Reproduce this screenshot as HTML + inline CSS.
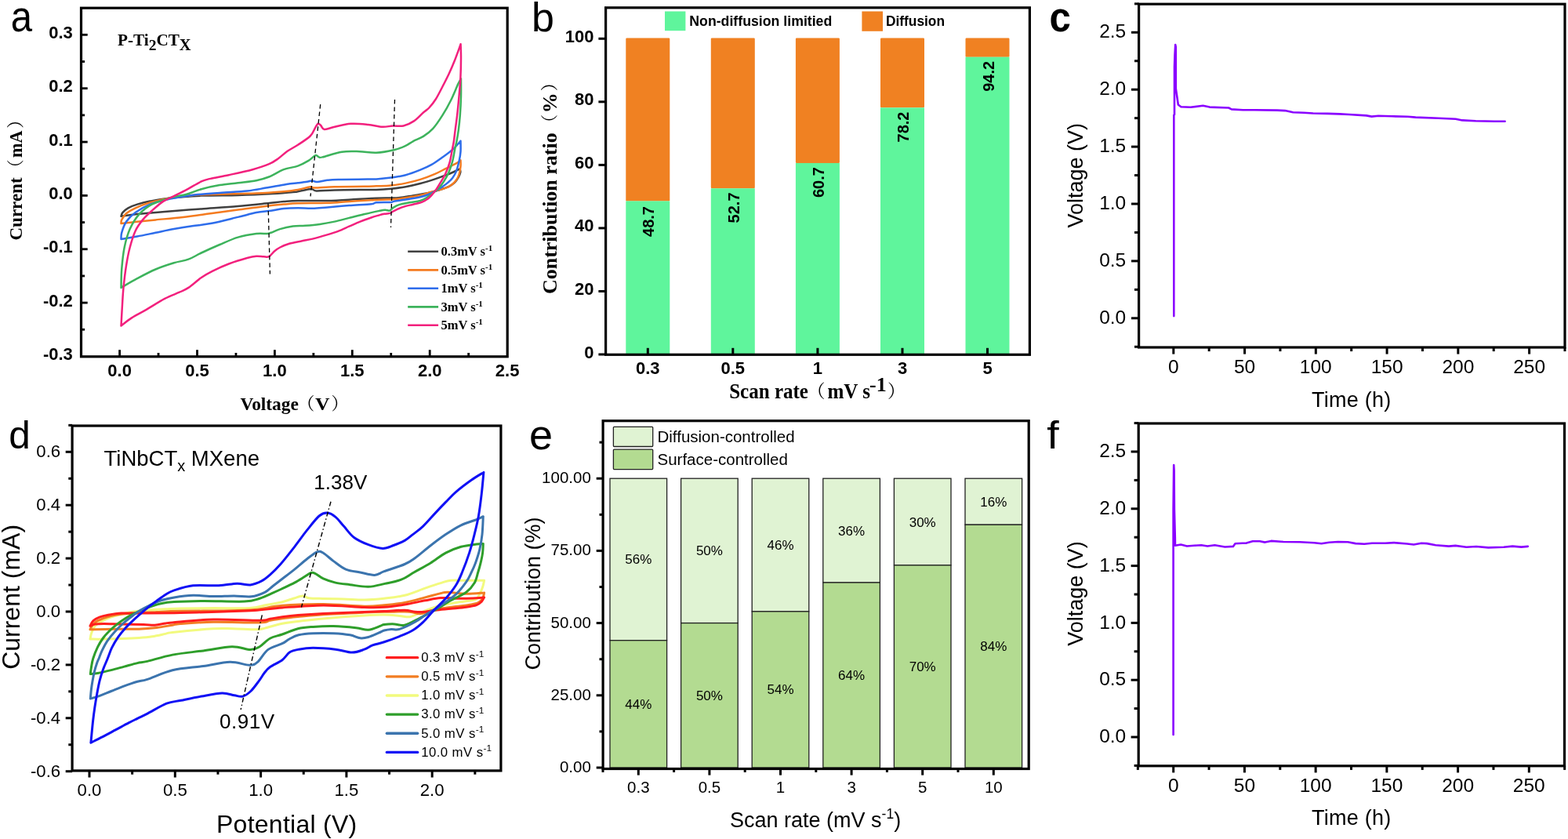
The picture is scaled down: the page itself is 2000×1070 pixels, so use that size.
<!DOCTYPE html>
<html><head><meta charset="utf-8"><title>Figure</title>
<style>html,body{margin:0;padding:0;background:#fff;} svg{display:block;}</style>
</head><body>
<svg width="2000" height="1070" viewBox="0 0 2000 1070">
<rect x="0" y="0" width="2000" height="1070" fill="#fff"/>
<path d="M154.5,275.8 C154.82,275.02 154.92,272.85 156.4,271.1 C157.88,269.35 160.3,267.05 163.4,265.3 C166.5,263.55 170.33,262.05 175,260.6 C179.67,259.15 184.38,257.97 191.4,256.6 C198.42,255.23 206.2,253.57 217.1,252.4 C228,251.23 242.4,250.18 256.8,249.6 C271.2,249.02 289.1,249.28 303.5,248.9 C317.9,248.52 331.52,247.97 343.2,247.3 C354.88,246.63 367.47,245.4 373.6,244.9 C379.73,244.4 376.13,244.95 380,244.3 C383.87,243.65 392.9,241.15 396.8,241 C400.7,240.85 398.42,243.17 403.4,243.4 C408.38,243.63 416.58,242.63 426.7,242.4 C436.82,242.17 455.22,242.07 464.1,242 C472.98,241.93 474.23,242.22 480,242 C485.77,241.78 492.47,241.33 498.7,240.7 C504.93,240.07 511.17,239.32 517.4,238.2 C523.63,237.08 529.87,235.63 536.1,234 C542.33,232.37 549.35,230.18 554.8,228.4 C560.25,226.62 564.92,224.78 568.8,223.3 C572.68,221.82 575.15,220.8 578.1,219.5 C581.05,218.2 585.1,216.17 586.5,215.5 M586.5,215.5 C586.63,216.17 587.6,217.73 587.3,219.5 C587,221.27 585.92,223.92 584.7,226.1 C583.48,228.28 581.87,230.73 580,232.6 C578.13,234.47 576.15,235.9 573.5,237.3 C570.85,238.7 567.22,239.92 564.1,241 C560.98,242.08 557.92,242.93 554.8,243.8 C551.68,244.67 550.08,245.27 545.4,246.2 C540.72,247.13 532.93,248.4 526.7,249.4 C520.47,250.4 515.78,251.65 508,252.2 C500.22,252.75 488.87,252.38 480,252.7 C471.13,253.02 465.23,253.55 454.8,254.1 C444.37,254.65 429.87,255.68 417.4,256 C404.93,256.32 389.25,255.82 380,256 C370.75,256.18 368.03,256.6 361.9,257.1 C355.77,257.6 352.93,258.03 343.2,259 C333.47,259.97 317.9,261.67 303.5,262.9 C289.1,264.13 272.37,265.23 256.8,266.4 C241.23,267.57 223.73,268.8 210.1,269.9 C196.47,271 184.27,272.02 175,273 C165.73,273.98 157.92,275.33 154.5,275.8" fill="none" stroke="#404040" stroke-width="2.5" stroke-linejoin="round" stroke-linecap="round"/>
<path d="M154.5,285.1 C154.62,284.32 154.12,282.53 155.2,280.4 C156.28,278.27 158.08,274.82 161,272.3 C163.92,269.78 167.63,267.63 172.7,265.3 C177.77,262.97 184,260.45 191.4,258.3 C198.8,256.15 208.15,253.97 217.1,252.4 C226.05,250.83 234.58,249.68 245.1,248.9 C255.62,248.12 266.57,248.08 280.2,247.7 C293.83,247.32 313.28,247.18 326.9,246.6 C340.52,246.02 353.05,244.97 361.9,244.2 C370.75,243.43 374.33,243 380,242 C385.67,241 392.32,238.6 395.9,238.2 C399.48,237.8 396.37,239.6 401.5,239.6 C406.63,239.6 416.27,238.5 426.7,238.2 C437.13,237.9 455.22,237.95 464.1,237.8 C472.98,237.65 474.23,237.52 480,237.3 C485.77,237.08 492.47,237.12 498.7,236.5 C504.93,235.88 511.17,234.87 517.4,233.6 C523.63,232.33 529.87,230.85 536.1,228.9 C542.33,226.95 549.35,224.23 554.8,221.9 C560.25,219.57 564.13,217.23 568.8,214.9 C573.47,212.57 579.68,209.62 582.8,207.9 C585.92,206.18 586.72,205.15 587.5,204.6 M587.5,204.6 C587.5,205.85 587.82,209.15 587.5,212.1 C587.18,215.05 586.53,219.35 585.6,222.3 C584.67,225.25 583.45,227.62 581.9,229.8 C580.35,231.98 578.48,233.77 576.3,235.4 C574.12,237.03 571.62,238.43 568.8,239.6 C565.98,240.77 562.52,241.53 559.4,242.4 C556.28,243.27 553.98,243.7 550.1,244.8 C546.22,245.9 541.55,247.77 536.1,249 C530.65,250.23 522.85,251.35 517.4,252.2 C511.95,253.05 509.63,253.63 503.4,254.1 C497.17,254.57 484.98,254.8 480,255 C475.02,255.2 479.27,254.98 473.5,255.3 C467.73,255.62 454.75,256.32 445.4,256.9 C436.05,257.48 428.3,258.4 417.4,258.8 C406.5,259.2 389.25,259 380,259.3 C370.75,259.6 368.8,260 361.9,260.6 C355,261.2 348.33,261.73 338.6,262.9 C328.87,264.07 315.18,266.03 303.5,267.6 C291.82,269.17 280.18,270.75 268.5,272.3 C256.82,273.85 245.08,275.55 233.4,276.9 C221.72,278.25 208.13,279.42 198.4,280.4 C188.67,281.38 182.32,282.02 175,282.8 C167.68,283.58 157.92,284.72 154.5,285.1" fill="none" stroke="#F47B20" stroke-width="2.5" stroke-linejoin="round" stroke-linecap="round"/>
<path d="M154.5,305 C154.62,303.63 154.12,300.5 155.2,296.8 C156.28,293.1 158.08,287.08 161,282.8 C163.92,278.52 167.63,274.8 172.7,271.1 C177.77,267.4 184,263.52 191.4,260.6 C198.8,257.68 208.15,255.55 217.1,253.6 C226.05,251.65 234.58,250.18 245.1,248.9 C255.62,247.62 268.52,246.8 280.2,245.9 C291.88,245 305.35,244.55 315.2,243.5 C325.05,242.45 330.93,241.02 339.3,239.6 C347.67,238.18 358.62,236.05 365.4,235 C372.18,233.95 375.63,233.83 380,233.3 C384.37,232.77 388.58,232.27 391.6,231.8 C394.62,231.33 395.98,230.45 398.1,230.5 C400.22,230.55 401.08,232.22 404.3,232.1 C407.52,231.98 412.88,230.33 417.4,229.8 C421.92,229.27 422.83,229.1 431.4,228.9 C439.97,228.7 460.7,228.68 468.8,228.6 C476.9,228.52 475.02,228.75 480,228.4 C484.98,228.05 492.47,227.35 498.7,226.5 C504.93,225.65 511.17,224.93 517.4,223.3 C523.63,221.67 530.65,218.88 536.1,216.7 C541.55,214.52 545.43,212.85 550.1,210.2 C554.77,207.55 559.43,204.15 564.1,200.8 C568.77,197.45 574.2,193.6 578.1,190.1 C582,186.6 585.93,181.52 587.5,179.8 M587.5,179.8 C587.5,182.07 587.82,189.12 587.5,193.4 C587.18,197.68 586.53,201.3 585.6,205.5 C584.67,209.7 583.3,215.02 581.9,218.6 C580.5,222.18 578.92,224.67 577.2,227 C575.48,229.33 573.78,230.73 571.6,232.6 C569.42,234.47 566.9,236.33 564.1,238.2 C561.3,240.07 557.92,242.08 554.8,243.8 C551.68,245.52 548.52,247.25 545.4,248.5 C542.28,249.75 540.77,250.28 536.1,251.3 C531.43,252.32 522.85,253.75 517.4,254.6 C511.95,255.45 506.52,255.85 503.4,256.4 C500.28,256.95 502.6,257.58 498.7,257.9 C494.8,258.22 484.2,257.92 480,258.3 C475.8,258.68 479.27,259.57 473.5,260.2 C467.73,260.83 454.75,261.4 445.4,262.1 C436.05,262.8 425.18,263.78 417.4,264.4 C409.62,265.02 404.93,265.65 398.7,265.8 C392.47,265.95 386.13,265.27 380,265.3 C373.87,265.33 367.63,265.42 361.9,266 C356.17,266.58 351.43,267.95 345.6,268.8 C339.77,269.65 333.92,269.75 326.9,271.1 C319.88,272.45 313.23,274.57 303.5,276.9 C293.77,279.23 278.23,283.22 268.5,285.1 C258.77,286.98 252.88,287.03 245.1,288.2 C237.32,289.37 229.58,290.67 221.8,292.1 C214.02,293.53 206.2,295.23 198.4,296.8 C190.6,298.37 182.32,300.13 175,301.5 C167.68,302.87 157.92,304.42 154.5,305" fill="none" stroke="#2E6DEB" stroke-width="2.5" stroke-linejoin="round" stroke-linecap="round"/>
<path d="M154.5,366.9 C154.62,363 154.5,352.07 155.2,343.5 C155.9,334.93 156.95,324.07 158.7,315.5 C160.45,306.93 162.58,299.12 165.7,292.1 C168.82,285.08 172.73,278.65 177.4,273.4 C182.07,268.15 187.08,264.1 193.7,260.6 C200.32,257.1 209.7,254.55 217.1,252.4 C224.5,250.25 231.48,249.57 238.1,247.7 C244.72,245.83 249.78,243.13 256.8,241.2 C263.82,239.27 272.42,237.42 280.2,236.1 C287.98,234.78 295.72,234.28 303.5,233.3 C311.28,232.32 320.28,231.5 326.9,230.2 C333.52,228.9 337.37,227.83 343.2,225.5 C349.03,223.17 355.77,218.52 361.9,216.2 C368.03,213.88 374.73,213.48 380,211.6 C385.27,209.72 389.77,207.15 393.5,204.9 C397.23,202.65 400.17,198.85 402.4,198.1 C404.63,197.35 405.4,200.02 406.9,200.4 C408.4,200.78 406.53,201.52 411.4,200.4 C416.27,199.28 428.25,194.9 436.1,193.7 C443.95,192.5 451.18,193.02 458.5,193.2 C465.82,193.38 472.52,195.17 480,194.8 C487.48,194.43 497.17,192.48 503.4,191 C509.63,189.52 513.52,187.68 517.4,185.9 C521.28,184.12 522.93,182.3 526.7,180.3 C530.47,178.3 535.77,176.58 540,173.9 C544.23,171.22 548.05,168.65 552.1,164.2 C556.15,159.75 560.45,153.28 564.3,147.2 C568.15,141.12 571.87,134.38 575.2,127.7 C578.53,121.02 582.17,111.65 584.3,107.1 C586.43,102.55 587.38,101.52 588,100.4 M588,100.4 C588,104.15 588.2,115.1 588,122.9 C587.8,130.7 587.32,140.12 586.8,147.2 C586.28,154.28 585.62,159.93 584.9,165.4 C584.18,170.87 583.23,176.12 582.5,180 C581.77,183.88 581.38,184.45 580.5,188.7 C579.62,192.95 578.53,200.37 577.2,205.5 C575.87,210.63 574.37,215.13 572.5,219.5 C570.63,223.87 568.18,228.27 566,231.7 C563.82,235.13 561.58,237.77 559.4,240.1 C557.22,242.43 555.23,243.83 552.9,245.7 C550.57,247.57 548.2,249.58 545.4,251.3 C542.6,253.02 539.98,254.83 536.1,256 C532.22,257.17 526.62,257.45 522.1,258.3 C517.58,259.15 512.43,260 509,261.1 C505.57,262.2 503.53,263.65 501.5,264.9 C499.47,266.15 498.52,268.13 496.8,268.6 C495.08,269.07 493.53,267.62 491.2,267.7 C488.87,267.78 487.32,268.17 482.8,269.1 C478.28,270.03 470.33,271.83 464.1,273.3 C457.87,274.77 451.63,276.35 445.4,277.9 C439.17,279.45 432.93,281.27 426.7,282.6 C420.47,283.93 414.23,285.03 408,285.9 C401.77,286.77 395.03,287.35 389.3,287.8 C383.57,288.25 378.95,287.88 373.6,288.6 C368.25,289.32 361.87,290.73 357.2,292.1 C352.53,293.47 348.32,295.82 345.6,296.8 C342.88,297.78 344.02,297.8 340.9,298 C337.78,298.2 333.13,297.23 326.9,298 C320.67,298.77 311.28,300.27 303.5,302.6 C295.72,304.93 287.98,308.68 280.2,312 C272.42,315.32 263.43,319.38 256.8,322.5 C250.17,325.62 246.23,328.57 240.4,330.7 C234.57,332.83 228.8,333.17 221.8,335.3 C214.8,337.43 206.2,340.18 198.4,343.5 C190.6,346.82 182.32,351.3 175,355.2 C167.68,359.1 157.92,364.95 154.5,366.9" fill="none" stroke="#3DB35C" stroke-width="2.5" stroke-linejoin="round" stroke-linecap="round"/>
<path d="M154.5,415.5 C154.73,411.28 155.4,398.3 155.9,390.2 C156.4,382.1 156.65,375.47 157.5,366.9 C158.35,358.33 159.63,347.37 161,338.8 C162.37,330.23 163.75,322.88 165.7,315.5 C167.65,308.12 169.98,300.35 172.7,294.5 C175.42,288.65 178.5,284.68 182,280.4 C185.5,276.12 189.42,272.68 193.7,268.8 C197.98,264.92 203.02,260.22 207.7,257.1 C212.38,253.98 216.73,252.63 221.8,250.1 C226.87,247.57 232.27,245.02 238.1,241.9 C243.93,238.78 251.73,233.73 256.8,231.4 C261.87,229.07 262.67,229.27 268.5,227.9 C274.33,226.53 282.85,225.15 291.8,223.2 C300.75,221.25 313.63,218.53 322.2,216.2 C330.77,213.87 337.75,211.53 343.2,209.2 C348.65,206.87 351,204.93 354.9,202.2 C358.8,199.47 362.42,195.72 366.6,192.8 C370.78,189.88 375.15,187.92 380,184.7 C384.85,181.48 391.97,177.23 395.7,173.5 C399.43,169.77 400.72,164.92 402.4,162.3 C404.08,159.68 404.67,158.18 405.8,157.8 C406.93,157.42 407.9,158.8 409.2,160 C410.5,161.2 410.98,164.62 413.6,165 C416.22,165.38 419.28,163.5 424.9,162.3 C430.52,161.1 439.83,158.37 447.3,157.8 C454.77,157.23 462.97,158.23 469.7,158.9 C476.43,159.57 482.47,161.53 487.7,161.8 C492.93,162.07 496.62,160.72 501.1,160.5 C505.58,160.28 510.12,161.52 514.6,160.5 C519.08,159.48 523.77,157.23 528,154.4 C532.23,151.57 536.78,146.32 540,143.5 C543.22,140.68 544.67,140.33 547.3,137.5 C549.93,134.67 552.97,130.97 555.8,126.5 C558.63,122.03 561.47,116.17 564.3,110.7 C567.13,105.23 570.17,99.37 572.8,93.7 C575.43,88.03 577.63,82.93 580.1,76.7 C582.57,70.47 586.35,59.7 587.6,56.3 M587.6,56.3 C587.67,59.3 588.03,67.25 588,74.3 C587.97,81.35 587.82,90.5 587.4,98.6 C586.98,106.7 586.22,114.8 585.5,122.9 C584.78,131 583.9,140.12 583.1,147.2 C582.3,154.28 581.4,159.93 580.7,165.4 C580,170.87 579.48,176.12 578.9,180 C578.32,183.88 578.1,184.13 577.2,188.7 C576.3,193.27 575.05,201.8 573.5,207.4 C571.95,213 569.93,217.93 567.9,222.3 C565.87,226.67 563.48,230.02 561.3,233.6 C559.12,237.18 557.13,240.7 554.8,243.8 C552.47,246.9 550.12,249.85 547.3,252.2 C544.48,254.55 541.33,256.48 537.9,257.9 C534.47,259.32 530.9,259.62 526.7,260.7 C522.5,261.78 516.9,262.93 512.7,264.4 C508.5,265.87 503.98,268.25 501.5,269.5 C499.02,270.75 499.67,271.35 497.8,271.9 C495.93,272.45 492.8,272.33 490.3,272.8 C487.8,273.27 485.6,273.92 482.8,274.7 C480,275.48 477.4,276.18 473.5,277.5 C469.6,278.82 464.08,280.73 459.4,282.6 C454.72,284.47 450.07,286.67 445.4,288.7 C440.73,290.73 436.07,293.02 431.4,294.8 C426.73,296.58 422.85,297.77 417.4,299.4 C411.95,301.03 404.05,303.28 398.7,304.6 C393.35,305.92 390.27,306.27 385.3,307.3 C380.33,308.33 373.58,309.43 368.9,310.8 C364.22,312.17 360.32,313.93 357.2,315.5 C354.08,317.07 352.53,318.25 350.2,320.2 C347.87,322.15 345.53,326.03 343.2,327.2 C340.87,328.37 338.92,327.28 336.2,327.2 C333.48,327.12 330.4,326.4 326.9,326.7 C323.4,327 321.05,327.37 315.2,329 C309.35,330.63 299.2,333.7 291.8,336.5 C284.4,339.3 276.63,342.88 270.8,345.8 C264.97,348.72 261.87,350.48 256.8,354 C251.73,357.52 245.07,363.78 240.4,366.9 C235.73,370.02 233.85,370.37 228.8,372.7 C223.75,375.03 217.12,377.2 210.1,380.9 C203.08,384.6 193.72,390.82 186.7,394.9 C179.68,398.98 173.37,401.97 168,405.4 C162.63,408.83 156.75,413.82 154.5,415.5" fill="none" stroke="#F2207D" stroke-width="2.5" stroke-linejoin="round" stroke-linecap="round"/>
<line x1="408.7" y1="133.1" x2="396" y2="250.4" stroke="#000" stroke-width="1.3" stroke-dasharray="5.5,4"/>
<line x1="503.5" y1="127" x2="498.5" y2="290" stroke="#000" stroke-width="1.3" stroke-dasharray="5.5,4"/>
<line x1="342" y1="259.4" x2="344.4" y2="349.4" stroke="#000" stroke-width="1.3" stroke-dasharray="5.5,4"/>
<rect x="103.5" y="10.2" width="543.7" height="444.6" fill="none" stroke="#000" stroke-width="3.2" stroke-linejoin="miter"/>
<line x1="103.5" y1="420.27" x2="108.1" y2="420.27" stroke="#000" stroke-width="2.8" />
<line x1="103.5" y1="386.1" x2="111.7" y2="386.1" stroke="#000" stroke-width="2.8" />
<line x1="103.5" y1="351.93" x2="108.1" y2="351.93" stroke="#000" stroke-width="2.8" />
<line x1="103.5" y1="317.75" x2="111.7" y2="317.75" stroke="#000" stroke-width="2.8" />
<line x1="103.5" y1="283.57" x2="108.1" y2="283.57" stroke="#000" stroke-width="2.8" />
<line x1="103.5" y1="249.4" x2="111.7" y2="249.4" stroke="#000" stroke-width="2.8" />
<line x1="103.5" y1="215.22" x2="108.1" y2="215.22" stroke="#000" stroke-width="2.8" />
<line x1="103.5" y1="181.05" x2="111.7" y2="181.05" stroke="#000" stroke-width="2.8" />
<line x1="103.5" y1="146.88" x2="108.1" y2="146.88" stroke="#000" stroke-width="2.8" />
<line x1="103.5" y1="112.7" x2="111.7" y2="112.7" stroke="#000" stroke-width="2.8" />
<line x1="103.5" y1="78.53" x2="108.1" y2="78.53" stroke="#000" stroke-width="2.8" />
<line x1="103.5" y1="44.35" x2="111.7" y2="44.35" stroke="#000" stroke-width="2.8" />
<text x="92.8" y="459.05" font-family="'Liberation Sans', Arial, sans-serif" font-size="22" font-weight="bold" text-anchor="end" fill="#000" >-0.3</text>
<text x="92.8" y="390.7" font-family="'Liberation Sans', Arial, sans-serif" font-size="22" font-weight="bold" text-anchor="end" fill="#000" >-0.2</text>
<text x="92.8" y="322.35" font-family="'Liberation Sans', Arial, sans-serif" font-size="22" font-weight="bold" text-anchor="end" fill="#000" >-0.1</text>
<text x="92.8" y="254" font-family="'Liberation Sans', Arial, sans-serif" font-size="22" font-weight="bold" text-anchor="end" fill="#000" >0.0</text>
<text x="92.8" y="185.65" font-family="'Liberation Sans', Arial, sans-serif" font-size="22" font-weight="bold" text-anchor="end" fill="#000" >0.1</text>
<text x="92.8" y="117.3" font-family="'Liberation Sans', Arial, sans-serif" font-size="22" font-weight="bold" text-anchor="end" fill="#000" >0.2</text>
<text x="92.8" y="48.95" font-family="'Liberation Sans', Arial, sans-serif" font-size="22" font-weight="bold" text-anchor="end" fill="#000" >0.3</text>
<line x1="152.6" y1="454.8" x2="152.6" y2="446.2" stroke="#000" stroke-width="2.8" />
<line x1="202.05" y1="454.8" x2="202.05" y2="450" stroke="#000" stroke-width="2.8" />
<line x1="251.5" y1="454.8" x2="251.5" y2="446.2" stroke="#000" stroke-width="2.8" />
<line x1="300.95" y1="454.8" x2="300.95" y2="450" stroke="#000" stroke-width="2.8" />
<line x1="350.4" y1="454.8" x2="350.4" y2="446.2" stroke="#000" stroke-width="2.8" />
<line x1="399.85" y1="454.8" x2="399.85" y2="450" stroke="#000" stroke-width="2.8" />
<line x1="449.3" y1="454.8" x2="449.3" y2="446.2" stroke="#000" stroke-width="2.8" />
<line x1="498.75" y1="454.8" x2="498.75" y2="450" stroke="#000" stroke-width="2.8" />
<line x1="548.2" y1="454.8" x2="548.2" y2="446.2" stroke="#000" stroke-width="2.8" />
<line x1="597.65" y1="454.8" x2="597.65" y2="450" stroke="#000" stroke-width="2.8" />
<text x="152.6" y="480" font-family="'Liberation Sans', Arial, sans-serif" font-size="22" font-weight="bold" text-anchor="middle" fill="#000" >0.0</text>
<text x="251.5" y="480" font-family="'Liberation Sans', Arial, sans-serif" font-size="22" font-weight="bold" text-anchor="middle" fill="#000" >0.5</text>
<text x="350.4" y="480" font-family="'Liberation Sans', Arial, sans-serif" font-size="22" font-weight="bold" text-anchor="middle" fill="#000" >1.0</text>
<text x="449.3" y="480" font-family="'Liberation Sans', Arial, sans-serif" font-size="22" font-weight="bold" text-anchor="middle" fill="#000" >1.5</text>
<text x="548.2" y="480" font-family="'Liberation Sans', Arial, sans-serif" font-size="22" font-weight="bold" text-anchor="middle" fill="#000" >2.0</text>
<text x="647.1" y="480" font-family="'Liberation Sans', Arial, sans-serif" font-size="22" font-weight="bold" text-anchor="middle" fill="#000" >2.5</text>
<line x1="520.2" y1="320.7" x2="559.1" y2="320.7" stroke="#404040" stroke-width="2.6" />
<text x="562.5" y="326.3" font-family="'Liberation Serif', 'Noto Serif CJK SC', 'Times New Roman', serif" font-size="16.5" font-weight="bold">0.3mV s<tspan font-size="11" dy="-6.5">-1</tspan></text>
<line x1="520.2" y1="344.4" x2="559.1" y2="344.4" stroke="#F47B20" stroke-width="2.6" />
<text x="562.5" y="350" font-family="'Liberation Serif', 'Noto Serif CJK SC', 'Times New Roman', serif" font-size="16.5" font-weight="bold">0.5mV s<tspan font-size="11" dy="-6.5">-1</tspan></text>
<line x1="520.2" y1="367.8" x2="559.1" y2="367.8" stroke="#2E6DEB" stroke-width="2.6" />
<text x="562.5" y="373.4" font-family="'Liberation Serif', 'Noto Serif CJK SC', 'Times New Roman', serif" font-size="16.5" font-weight="bold">1mV s<tspan font-size="11" dy="-6.5">-1</tspan></text>
<line x1="520.2" y1="391.4" x2="559.1" y2="391.4" stroke="#3DB35C" stroke-width="2.6" />
<text x="562.5" y="397" font-family="'Liberation Serif', 'Noto Serif CJK SC', 'Times New Roman', serif" font-size="16.5" font-weight="bold">3mV s<tspan font-size="11" dy="-6.5">-1</tspan></text>
<line x1="520.2" y1="414.8" x2="559.1" y2="414.8" stroke="#F2207D" stroke-width="2.6" />
<text x="562.5" y="420.4" font-family="'Liberation Serif', 'Noto Serif CJK SC', 'Times New Roman', serif" font-size="16.5" font-weight="bold">5mV s<tspan font-size="11" dy="-6.5">-1</tspan></text>
<text x="150" y="57.7" font-family="'Liberation Serif', 'Noto Serif CJK SC', 'Times New Roman', serif" font-size="21.2" font-weight="bold">P-Ti<tspan dy="6" font-size="19.5">2</tspan><tspan dy="-6">CT</tspan><tspan dy="6" font-size="20.5">X</tspan></text>
<g transform="translate(27.7,305.5) rotate(-90)" font-family="'Liberation Serif', 'Noto Serif CJK SC', 'Times New Roman', serif"><text x="-1" y="0" font-size="23" font-weight="bold">Current</text><text x="80.3" y="-1" font-size="22">（</text><text x="104.6" y="0" font-size="23" font-weight="bold" textLength="34.5" lengthAdjust="spacingAndGlyphs">mA</text><text x="141.7" y="-1" font-size="22">）</text></g>
<text x="306.4" y="522.8" font-family="'Liberation Serif', 'Noto Serif CJK SC', 'Times New Roman', serif" font-size="23.4" font-weight="bold">Voltage</text>
<text x="379.2" y="522" font-family="'Liberation Serif', 'Noto Serif CJK SC', 'Times New Roman', serif" font-size="22">（</text>
<text x="402" y="522.8" font-family="'Liberation Serif', 'Noto Serif CJK SC', 'Times New Roman', serif" font-size="23.4" font-weight="bold" textLength="18.5" lengthAdjust="spacingAndGlyphs">V</text>
<text x="422.4" y="522" font-family="'Liberation Serif', 'Noto Serif CJK SC', 'Times New Roman', serif" font-size="22">）</text>
<text transform="translate(13.8,39.6) scale(0.893,1)" font-family="'Liberation Sans', Arial, sans-serif" font-size="55" font-weight="normal">a</text>
<rect x="798.3" y="48.5" width="56" height="207.9" fill="#F08122" rx="1.2"/>
<rect x="798.3" y="256.4" width="56" height="195.9" fill="#5FF59C"/>
<text transform="translate(834.3,263) rotate(-90)" text-anchor="end" font-family="'Liberation Sans', Arial, sans-serif" font-size="20" font-weight="bold">48.7</text>
<rect x="906.8" y="48.5" width="56" height="191.75" fill="#F08122" rx="1.2"/>
<rect x="906.8" y="240.25" width="56" height="212.05" fill="#5FF59C"/>
<text transform="translate(942.8,245.45) rotate(-90)" text-anchor="end" font-family="'Liberation Sans', Arial, sans-serif" font-size="20" font-weight="bold">52.7</text>
<rect x="1014.9" y="48.5" width="56" height="159.45" fill="#F08122" rx="1.2"/>
<rect x="1014.9" y="207.95" width="56" height="244.35" fill="#5FF59C"/>
<text transform="translate(1050.9,213.15) rotate(-90)" text-anchor="end" font-family="'Liberation Sans', Arial, sans-serif" font-size="20" font-weight="bold">60.7</text>
<rect x="1123" y="48.5" width="56" height="88.81" fill="#F08122" rx="1.2"/>
<rect x="1123" y="137.31" width="56" height="314.99" fill="#5FF59C"/>
<text transform="translate(1159,142.51) rotate(-90)" text-anchor="end" font-family="'Liberation Sans', Arial, sans-serif" font-size="20" font-weight="bold">78.2</text>
<rect x="1231.5" y="48.5" width="56" height="24.21" fill="#F08122" rx="1.2"/>
<rect x="1231.5" y="72.71" width="56" height="379.59" fill="#5FF59C"/>
<text transform="translate(1267.5,77.91) rotate(-90)" text-anchor="end" font-family="'Liberation Sans', Arial, sans-serif" font-size="20" font-weight="bold">94.2</text>
<rect x="772.6" y="9.8" width="540.8" height="442.5" fill="none" stroke="#000" stroke-width="3.2" stroke-linejoin="miter"/>
<line x1="763.4" y1="452" x2="772.6" y2="452" stroke="#000" stroke-width="3.0" />
<text x="757.5" y="456.5" font-family="'Liberation Sans', Arial, sans-serif" font-size="22" font-weight="bold" text-anchor="end" fill="#000" >0</text>
<line x1="763.4" y1="371.46" x2="772.6" y2="371.46" stroke="#000" stroke-width="3.0" />
<text x="757.5" y="375.96" font-family="'Liberation Sans', Arial, sans-serif" font-size="22" font-weight="bold" text-anchor="end" fill="#000" >20</text>
<line x1="763.4" y1="290.92" x2="772.6" y2="290.92" stroke="#000" stroke-width="3.0" />
<text x="757.5" y="295.42" font-family="'Liberation Sans', Arial, sans-serif" font-size="22" font-weight="bold" text-anchor="end" fill="#000" >40</text>
<line x1="763.4" y1="210.38" x2="772.6" y2="210.38" stroke="#000" stroke-width="3.0" />
<text x="757.5" y="214.88" font-family="'Liberation Sans', Arial, sans-serif" font-size="22" font-weight="bold" text-anchor="end" fill="#000" >60</text>
<line x1="763.4" y1="129.84" x2="772.6" y2="129.84" stroke="#000" stroke-width="3.0" />
<text x="757.5" y="134.34" font-family="'Liberation Sans', Arial, sans-serif" font-size="22" font-weight="bold" text-anchor="end" fill="#000" >80</text>
<line x1="763.4" y1="49.3" x2="772.6" y2="49.3" stroke="#000" stroke-width="3.0" />
<text x="757.5" y="53.8" font-family="'Liberation Sans', Arial, sans-serif" font-size="22" font-weight="bold" text-anchor="end" fill="#000" >100</text>
<line x1="826.3" y1="452.3" x2="826.3" y2="443.8" stroke="#000" stroke-width="3.0" />
<text x="826.3" y="476.6" font-family="'Liberation Sans', Arial, sans-serif" font-size="22" font-weight="bold" text-anchor="middle" fill="#000" >0.3</text>
<line x1="934.8" y1="452.3" x2="934.8" y2="443.8" stroke="#000" stroke-width="3.0" />
<text x="934.8" y="476.6" font-family="'Liberation Sans', Arial, sans-serif" font-size="22" font-weight="bold" text-anchor="middle" fill="#000" >0.5</text>
<line x1="1042.9" y1="452.3" x2="1042.9" y2="443.8" stroke="#000" stroke-width="3.0" />
<text x="1042.9" y="476.6" font-family="'Liberation Sans', Arial, sans-serif" font-size="22" font-weight="bold" text-anchor="middle" fill="#000" >1</text>
<line x1="1151" y1="452.3" x2="1151" y2="443.8" stroke="#000" stroke-width="3.0" />
<text x="1151" y="476.6" font-family="'Liberation Sans', Arial, sans-serif" font-size="22" font-weight="bold" text-anchor="middle" fill="#000" >3</text>
<line x1="1259.5" y1="452.3" x2="1259.5" y2="443.8" stroke="#000" stroke-width="3.0" />
<text x="1259.5" y="476.6" font-family="'Liberation Sans', Arial, sans-serif" font-size="22" font-weight="bold" text-anchor="middle" fill="#000" >5</text>
<rect x="848" y="14.5" width="26.4" height="24.7" fill="#5FF59C"/>
<text x="879.3" y="32.8" font-family="'Liberation Sans', Arial, sans-serif" font-size="18" font-weight="bold" text-anchor="start" fill="#000" textLength="182" lengthAdjust="spacingAndGlyphs">Non-diffusion limitied</text>
<rect x="1099.4" y="14.5" width="26.6" height="25.3" fill="#F08122"/>
<text x="1130" y="33.3" font-family="'Liberation Sans', Arial, sans-serif" font-size="18" font-weight="bold" text-anchor="start" fill="#000" textLength="75" lengthAdjust="spacingAndGlyphs">Diffusion</text>
<g transform="translate(710.3,374.1) rotate(-90)" font-family="'Liberation Serif', 'Noto Serif CJK SC', 'Times New Roman', serif"><text x="-1" y="0" font-size="26" font-weight="bold">Contribution ratio</text><text x="206.3" y="-2" font-size="22">（</text><text x="229.9" y="0" font-size="26" font-weight="bold">%</text><text x="257.8" y="-2" font-size="22">）</text></g>
<text x="930.2" y="508.2" font-family="'Liberation Serif', 'Noto Serif CJK SC', 'Times New Roman', serif" font-size="26.3" font-weight="bold" textLength="100.8" lengthAdjust="spacingAndGlyphs">Scan rate</text>
<text x="1029.4" y="506.8" font-family="'Liberation Serif', 'Noto Serif CJK SC', 'Times New Roman', serif" font-size="23">（</text>
<text x="1055.4" y="508.2" font-family="'Liberation Serif', 'Noto Serif CJK SC', 'Times New Roman', serif" font-size="26.3" font-weight="bold" textLength="54.6" lengthAdjust="spacingAndGlyphs">mV s</text>
<text x="1109" y="498.7" font-family="'Liberation Serif', 'Noto Serif CJK SC', 'Times New Roman', serif" font-size="26" font-weight="bold">-1</text>
<text x="1132.1" y="506.8" font-family="'Liberation Serif', 'Noto Serif CJK SC', 'Times New Roman', serif" font-size="23">）</text>
<text transform="translate(677.9,39.5) scale(1.0,1)" font-family="'Liberation Sans', Arial, sans-serif" font-size="52" font-weight="normal">b</text>
<path d="M1497.3,403.1 L1497.3,146.9 L1498,146 L1498,85 L1498.5,70 L1499.2,57 L1499.8,60 L1499.8,112.9 L1502.8,133.5 L1506.4,136.2 L1518.6,136.8 L1534.4,134.7 L1542.9,136.6 L1567.2,137.5 L1570.8,139.4 L1585.4,140.2 L1600,140.3 L1628.9,140.6 L1639.1,141.1 L1649.3,143.2 L1662.9,143.7 L1674.8,144.5 L1693.5,144.9 L1708.8,145.4 L1720.7,146 L1742.8,147.4 L1749.6,148.6 L1758.1,147.7 L1775.1,148.3 L1795.5,148.8 L1805.7,149.6 L1834.6,150.8 L1856.7,151.7 L1865.2,153.4 L1882.2,154.2 L1906,154.7 L1919.6,154.7" fill="none" stroke="#8A00FF" stroke-width="2.6" stroke-linejoin="round" stroke-linecap="round"/>
<rect x="1452.6" y="5.2" width="543.4" height="437.8" fill="none" stroke="#000" stroke-width="3.2" stroke-linejoin="miter"/>
<line x1="1447" y1="442.25" x2="1452.6" y2="442.25" stroke="#000" stroke-width="3.0" />
<line x1="1443" y1="405.8" x2="1452.6" y2="405.8" stroke="#000" stroke-width="3.0" />
<line x1="1447" y1="369.35" x2="1452.6" y2="369.35" stroke="#000" stroke-width="3.0" />
<line x1="1443" y1="332.9" x2="1452.6" y2="332.9" stroke="#000" stroke-width="3.0" />
<line x1="1447" y1="296.45" x2="1452.6" y2="296.45" stroke="#000" stroke-width="3.0" />
<line x1="1443" y1="260" x2="1452.6" y2="260" stroke="#000" stroke-width="3.0" />
<line x1="1447" y1="223.55" x2="1452.6" y2="223.55" stroke="#000" stroke-width="3.0" />
<line x1="1443" y1="187.1" x2="1452.6" y2="187.1" stroke="#000" stroke-width="3.0" />
<line x1="1447" y1="150.65" x2="1452.6" y2="150.65" stroke="#000" stroke-width="3.0" />
<line x1="1443" y1="114.2" x2="1452.6" y2="114.2" stroke="#000" stroke-width="3.0" />
<line x1="1447" y1="77.75" x2="1452.6" y2="77.75" stroke="#000" stroke-width="3.0" />
<line x1="1443" y1="41.3" x2="1452.6" y2="41.3" stroke="#000" stroke-width="3.0" />
<line x1="1447" y1="4.85" x2="1452.6" y2="4.85" stroke="#000" stroke-width="3.0" />
<text x="1436.2" y="412.9" font-family="'Liberation Sans', Arial, sans-serif" font-size="24.5" font-weight="normal" text-anchor="end" fill="#000" >0.0</text>
<text x="1436.2" y="340" font-family="'Liberation Sans', Arial, sans-serif" font-size="24.5" font-weight="normal" text-anchor="end" fill="#000" >0.5</text>
<text x="1436.2" y="267.1" font-family="'Liberation Sans', Arial, sans-serif" font-size="24.5" font-weight="normal" text-anchor="end" fill="#000" >1.0</text>
<text x="1436.2" y="194.2" font-family="'Liberation Sans', Arial, sans-serif" font-size="24.5" font-weight="normal" text-anchor="end" fill="#000" >1.5</text>
<text x="1436.2" y="121.3" font-family="'Liberation Sans', Arial, sans-serif" font-size="24.5" font-weight="normal" text-anchor="end" fill="#000" >2.0</text>
<text x="1436.2" y="48.4" font-family="'Liberation Sans', Arial, sans-serif" font-size="24.5" font-weight="normal" text-anchor="end" fill="#000" >2.5</text>
<line x1="1496.8" y1="443" x2="1496.8" y2="451.6" stroke="#000" stroke-width="3.0" />
<line x1="1542.18" y1="443" x2="1542.18" y2="448.1" stroke="#000" stroke-width="3.0" />
<line x1="1587.56" y1="443" x2="1587.56" y2="451.6" stroke="#000" stroke-width="3.0" />
<line x1="1632.94" y1="443" x2="1632.94" y2="448.1" stroke="#000" stroke-width="3.0" />
<line x1="1678.32" y1="443" x2="1678.32" y2="451.6" stroke="#000" stroke-width="3.0" />
<line x1="1723.7" y1="443" x2="1723.7" y2="448.1" stroke="#000" stroke-width="3.0" />
<line x1="1769.08" y1="443" x2="1769.08" y2="451.6" stroke="#000" stroke-width="3.0" />
<line x1="1814.46" y1="443" x2="1814.46" y2="448.1" stroke="#000" stroke-width="3.0" />
<line x1="1859.84" y1="443" x2="1859.84" y2="451.6" stroke="#000" stroke-width="3.0" />
<line x1="1905.22" y1="443" x2="1905.22" y2="448.1" stroke="#000" stroke-width="3.0" />
<line x1="1950.6" y1="443" x2="1950.6" y2="451.6" stroke="#000" stroke-width="3.0" />
<line x1="1995.98" y1="443" x2="1995.98" y2="448.1" stroke="#000" stroke-width="3.0" />
<text x="1496.8" y="476.4" font-family="'Liberation Sans', Arial, sans-serif" font-size="24.5" font-weight="normal" text-anchor="middle" fill="#000" >0</text>
<text x="1587.56" y="476.4" font-family="'Liberation Sans', Arial, sans-serif" font-size="24.5" font-weight="normal" text-anchor="middle" fill="#000" >50</text>
<text x="1678.32" y="476.4" font-family="'Liberation Sans', Arial, sans-serif" font-size="24.5" font-weight="normal" text-anchor="middle" fill="#000" >100</text>
<text x="1769.08" y="476.4" font-family="'Liberation Sans', Arial, sans-serif" font-size="24.5" font-weight="normal" text-anchor="middle" fill="#000" >150</text>
<text x="1859.84" y="476.4" font-family="'Liberation Sans', Arial, sans-serif" font-size="24.5" font-weight="normal" text-anchor="middle" fill="#000" >200</text>
<text x="1950.6" y="476.4" font-family="'Liberation Sans', Arial, sans-serif" font-size="24.5" font-weight="normal" text-anchor="middle" fill="#000" >250</text>
<text transform="translate(1381.2,223.7) rotate(-90)" text-anchor="middle" font-family="'Liberation Sans', Arial, sans-serif" font-size="27">Voltage (V)</text>
<text x="1673" y="518.6" font-family="'Liberation Sans', Arial, sans-serif" font-size="27" font-weight="normal" text-anchor="start" fill="#000" letter-spacing="0.25">Time (h)</text>
<text transform="translate(1338.5,39.5) scale(0.92,1)" font-family="'Liberation Sans', Arial, sans-serif" font-size="53.5" font-weight="bold">c</text>
<path d="M115,815.1 C115.28,813.8 115.67,810.1 116.7,807.3 C117.73,804.5 119.13,800.73 121.2,798.3 C123.27,795.87 125.73,794.57 129.1,792.7 C132.47,790.83 137.1,788.68 141.4,787.1 C145.7,785.52 149.85,784.42 154.9,783.2 C159.95,781.98 166.1,780.65 171.7,779.8 C177.3,778.95 181.97,778.6 188.5,778.1 C195.03,777.6 203.98,777.17 210.9,776.8 C217.82,776.43 219.77,776.1 230,775.9 C240.23,775.7 257.62,775.65 272.3,775.6 C286.98,775.55 306.82,776.28 318.1,775.6 C329.38,774.92 333.02,772.8 340,771.5 C346.98,770.2 354.17,769.22 360,767.8 C365.83,766.38 370.63,764.28 375,763 C379.37,761.72 383.03,760.15 386.2,760.1 C389.37,760.05 389.7,762.13 394,762.7 C398.3,763.27 404.58,763.28 412,763.5 C419.42,763.72 429.67,763.75 438.5,764 C447.33,764.25 456.42,765.13 465,765 C473.58,764.87 481.47,764.15 490,763.2 C498.53,762.25 507.48,761.48 516.2,759.3 C524.92,757.12 534.67,752.72 542.3,750.1 C549.93,747.48 556.55,745.23 562,743.6 C567.45,741.97 569.55,740.85 575,740.3 C580.45,739.75 587.6,740.3 594.7,740.3 C601.8,740.3 613.78,740.3 617.6,740.3 M617.6,740.3 C617.27,741.72 616.58,745.87 615.6,748.8 C614.62,751.73 613,755.4 611.7,757.9 C610.4,760.4 609.55,762.48 607.8,763.8 C606.05,765.12 605.57,765.03 601.2,765.8 C596.83,766.57 588.13,767.32 581.6,768.4 C575.07,769.48 567.45,770.98 562,772.3 C556.55,773.62 553.27,774.77 548.9,776.3 C544.53,777.83 540.17,779.77 535.8,781.5 C531.43,783.23 527.07,786.05 522.7,786.7 C518.33,787.35 515.05,785.83 509.6,785.4 C504.15,784.97 497.48,784.17 490,784.1 C482.52,784.03 477.65,784.2 464.7,785 C451.75,785.8 426.42,787.65 412.3,788.9 C398.18,790.15 388.72,791.45 380,792.5 C371.28,793.55 367.03,793.77 360,795.2 C352.97,796.63 343.25,799.85 337.8,801.1 C332.35,802.35 334.22,802.6 327.3,802.7 C320.38,802.8 305.47,801.85 296.3,801.7 C287.13,801.55 285.02,801.02 272.3,801.8 C259.58,802.58 230.23,805.3 220,806.4 C209.77,807.5 215.22,807.5 210.9,808.4 C206.58,809.3 199.7,810.95 194.1,811.8 C188.5,812.65 183.83,813.03 177.3,813.5 C170.77,813.97 162.38,814.33 154.9,814.6 C147.42,814.87 139.05,815.02 132.4,815.1 C125.75,815.18 117.9,815.1 115,815.1" fill="none" stroke="#F2FA7E" stroke-width="3.0" stroke-linejoin="round" stroke-linecap="round"/>
<path d="M115,802.8 C115.48,801.87 116.3,799.07 117.9,797.2 C119.5,795.33 121.25,793.38 124.6,791.6 C127.95,789.82 132.95,787.9 138,786.5 C143.05,785.1 144.57,784.2 154.9,783.2 C165.23,782.2 187.48,781.15 200,780.5 C212.52,779.85 215.77,779.57 230,779.3 C244.23,779.03 269.62,779.18 285.4,778.9 C301.18,778.62 312.27,778.7 324.7,777.6 C337.13,776.5 345.4,773.47 360,772.3 C374.6,771.13 394.85,770.45 412.3,770.6 C429.75,770.75 451.75,773.02 464.7,773.2 C477.65,773.38 481.42,772.5 490,771.7 C498.58,770.9 507.48,770.03 516.2,768.4 C524.92,766.77 534.67,763.87 542.3,761.9 C549.93,759.93 557.2,757.7 562,756.6 C566.8,755.5 565.65,755.18 571.1,755.3 C576.55,755.42 586.95,757.18 594.7,757.3 C602.45,757.42 613.78,756.22 617.6,756 M617.6,756 C617.27,757.2 616.8,761.13 615.6,763.2 C614.4,765.27 612.8,767.1 610.4,768.4 C608,769.7 606,770.13 601.2,771 C596.4,771.87 588.13,772.72 581.6,773.6 C575.07,774.48 567.45,775.42 562,776.3 C556.55,777.18 553.27,777.82 548.9,778.9 C544.53,779.98 540.17,782.58 535.8,782.8 C531.43,783.02 528.15,780.63 522.7,780.2 C517.25,779.77 508.55,780.2 503.1,780.2 C497.65,780.2 496.4,780.05 490,780.2 C483.6,780.35 477.65,780.52 464.7,781.1 C451.75,781.68 426.42,782.8 412.3,783.7 C398.18,784.6 388.72,785.67 380,786.5 C371.28,787.33 365.95,787.9 360,788.7 C354.05,789.5 349.1,790.43 344.3,791.3 C339.5,792.17 343.2,793.57 331.2,793.9 C319.2,794.23 289.17,793.03 272.3,793.3 C255.43,793.57 238.72,794.85 230,795.5 C221.28,796.15 225.05,796.35 220,797.2 C214.95,798.05 206.82,799.77 199.7,800.6 C192.58,801.43 186.65,801.93 177.3,802.2 C167.95,802.47 153.98,802.1 143.6,802.2 C133.22,802.3 119.77,802.7 115,802.8" fill="none" stroke="#F27D22" stroke-width="3.0" stroke-linejoin="round" stroke-linecap="round"/>
<path d="M115,798.3 C115.67,797.18 117.03,793.47 119,791.6 C120.97,789.73 123.63,788.32 126.8,787.1 C129.97,785.88 133.32,785.13 138,784.3 C142.68,783.47 148.35,782.48 154.9,782.1 C161.45,781.72 164.78,782.1 177.3,782 C189.82,781.9 211.98,781.85 230,781.5 C248.02,781.15 269.62,780.38 285.4,779.9 C301.18,779.42 312.27,779.42 324.7,778.6 C337.13,777.78 345.4,776.12 360,775 C374.6,773.88 394.85,771.98 412.3,771.9 C429.75,771.82 451.75,774.1 464.7,774.5 C477.65,774.9 481.42,774.88 490,774.3 C498.58,773.72 507.48,772.42 516.2,771 C524.92,769.58 534.67,767.22 542.3,765.8 C549.93,764.38 555.45,762.93 562,762.5 C568.55,762.07 576.15,763.08 581.6,763.2 C587.05,763.32 589.68,763.32 594.7,763.2 C599.72,763.08 607.88,762.72 611.7,762.5 C615.52,762.28 616.62,762 617.6,761.9 M617.6,761.9 C617.05,762.77 615.93,765.47 614.3,767.1 C612.67,768.73 611.07,770.5 607.8,771.7 C604.53,772.9 600.17,773.53 594.7,774.3 C589.23,775.07 581.55,775.65 575,776.3 C568.45,776.95 560.85,777.55 555.4,778.2 C549.95,778.85 546.65,779.87 542.3,780.2 C537.95,780.53 533.65,780.53 529.3,780.2 C524.95,779.87 522.75,778.32 516.2,778.2 C509.65,778.08 498.58,779.12 490,779.5 C481.42,779.88 477.65,780.02 464.7,780.5 C451.75,780.98 426.42,781.73 412.3,782.4 C398.18,783.07 388.72,783.78 380,784.5 C371.28,785.22 365.95,785.9 360,786.7 C354.05,787.5 349.1,788.53 344.3,789.3 C339.5,790.07 343.2,791.18 331.2,791.3 C319.2,791.42 290.83,789.57 272.3,790 C253.77,790.43 230.23,793.07 220,793.9 C209.77,794.73 214.65,794.45 210.9,795 C207.15,795.55 202.17,796.93 197.5,797.2 C192.83,797.47 190,796.78 182.9,796.6 C175.8,796.42 163.32,796.28 154.9,796.1 C146.48,795.92 138.02,795.5 132.4,795.5 C126.78,795.5 124.1,795.63 121.2,796.1 C118.3,796.57 116.03,797.93 115,798.3" fill="none" stroke="#FF1E1E" stroke-width="3.0" stroke-linejoin="round" stroke-linecap="round"/>
<path d="M115.3,859.6 C115.48,858.2 115.83,854.47 116.4,851.2 C116.97,847.93 117.33,844.33 118.7,840 C120.07,835.67 122.5,829.53 124.6,825.2 C126.7,820.87 128.87,817.37 131.3,814 C133.73,810.63 136.2,807.98 139.2,805 C142.2,802.02 145.75,798.9 149.3,796.1 C152.85,793.3 156.58,790.63 160.5,788.2 C164.42,785.77 168.13,783.73 172.8,781.5 C177.47,779.27 183.08,776.77 188.5,774.8 C193.92,772.83 199.7,770.92 205.3,769.7 C210.9,768.48 213.1,768.05 222.1,767.5 C231.1,766.95 244.38,766.47 259.3,766.4 C274.22,766.33 299.62,767.63 311.6,767.1 C323.58,766.57 325.03,765.07 331.2,763.2 C337.37,761.33 343.8,757.98 348.6,755.9 C353.4,753.82 355.48,752.83 360,750.7 C364.52,748.57 370.9,745.67 375.7,743.1 C380.5,740.53 385.32,737.4 388.8,735.3 C392.28,733.2 394.42,731.17 396.6,730.5 C398.78,729.83 399.28,730.07 401.9,731.3 C404.52,732.53 407.95,735.93 412.3,737.9 C416.65,739.87 422.32,741.8 428,743.1 C433.68,744.4 439.42,744.83 446.4,745.7 C453.38,746.57 462.48,748.52 469.9,748.3 C477.32,748.08 483.92,745.92 490.9,744.4 C497.88,742.88 505.63,741.6 511.8,739.2 C517.97,736.8 521.72,733.5 527.9,730 C534.08,726.5 542.13,722.35 548.9,718.2 C555.67,714.05 561.97,708.58 568.5,705.1 C575.03,701.62 581.55,699.15 588.1,697.3 C594.65,695.45 603.1,694.65 607.8,694 C612.5,693.35 614.88,693.5 616.3,693.4 M616.3,693.4 C616.18,695.35 616.15,700.97 615.6,705.1 C615.05,709.23 613.98,714.05 613,718.2 C612.02,722.35 611.02,725.77 609.7,730 C608.38,734.23 607.6,739.38 605.1,743.6 C602.6,747.82 599.72,751.6 594.7,755.3 C589.68,759 581.55,762.08 575,765.8 C568.45,769.52 561.93,773.9 555.4,777.6 C548.87,781.3 542.33,784.73 535.8,788 C529.27,791.27 521.65,795.88 516.2,797.2 C510.75,798.52 507.47,796.02 503.1,795.9 C498.73,795.78 492.92,796.13 490,796.5 C487.08,796.87 488.95,796.97 485.6,798.1 C482.25,799.23 475.13,802.87 469.9,803.3 C464.67,803.73 461.62,801.48 454.2,800.7 C446.78,799.92 434.55,798.82 425.4,798.6 C416.25,798.38 406.87,798.88 399.3,799.4 C391.73,799.92 386.55,800.1 380,801.7 C373.45,803.3 365.95,806.92 360,809 C354.05,811.08 349.1,811.58 344.3,814.2 C339.5,816.82 335.35,822.3 331.2,824.7 C327.05,827.1 325.28,828.6 319.4,828.6 C313.52,828.6 305.92,824.48 295.9,824.7 C285.88,824.92 271.95,828.17 259.3,829.9 C246.65,831.63 231.88,832.85 220,835.1 C208.12,837.35 195.45,841.65 188,843.4 C180.55,845.15 180.22,844.48 175.3,845.6 C170.38,846.72 164.1,848.6 158.5,850.1 C152.9,851.6 147.32,853.2 141.7,854.6 C136.08,856 129.2,857.67 124.8,858.5 C120.4,859.33 116.88,859.42 115.3,859.6" fill="none" stroke="#2E9E2A" stroke-width="3.0" stroke-linejoin="round" stroke-linecap="round"/>
<path d="M115.3,891 C115.48,889.05 115.93,883.12 116.4,879.3 C116.87,875.48 117.45,871.85 118.1,868.1 C118.75,864.35 119.37,860.55 120.3,856.8 C121.23,853.05 122.75,848.4 123.7,845.6 C124.65,842.8 124.92,842.65 126,840 C127.08,837.35 128.38,833.47 130.2,829.7 C132.02,825.93 134.28,821.32 136.9,817.4 C139.52,813.48 142.53,809.93 145.9,806.2 C149.27,802.47 153.37,798.37 157.1,795 C160.83,791.63 164.57,788.82 168.3,786 C172.03,783.18 175.77,780.43 179.5,778.1 C183.23,775.77 186.4,774.05 190.7,772 C195,769.95 200.07,767.48 205.3,765.8 C210.53,764.12 215.28,762.98 222.1,761.9 C228.92,760.82 237.83,759.52 246.2,759.3 C254.57,759.08 263.58,760.5 272.3,760.6 C281.02,760.7 290.43,759.87 298.5,759.9 C306.57,759.93 314.15,761.57 320.7,760.8 C327.25,760.03 333.25,757.52 337.8,755.3 C342.35,753.08 344.3,750.33 348,747.5 C351.7,744.67 355.38,741.87 360,738.3 C364.62,734.73 370.47,730.32 375.7,726.1 C380.93,721.88 386.6,716.72 391.4,713 C396.2,709.28 401.02,705.1 404.5,703.8 C407.98,702.5 408.82,703.23 412.3,705.2 C415.78,707.17 420.6,712.12 425.4,715.6 C430.2,719.08 435.43,723.7 441.1,726.1 C446.77,728.5 453.28,728.78 459.4,730 C465.52,731.22 472.7,733.62 477.8,733.4 C482.9,733.18 483.6,731.02 490,728.7 C496.4,726.38 509.65,722.33 516.2,719.5 C522.75,716.67 523.85,715.62 529.3,711.7 C534.75,707.78 542.37,701.02 548.9,696 C555.43,690.98 561.97,685.97 568.5,681.6 C575.03,677.23 581.55,672.97 588.1,669.8 C594.65,666.63 603.1,664.45 607.8,662.6 C612.5,660.75 614.88,659.35 616.3,658.7 M616.3,658.7 C616.08,662.52 615.77,674.52 615,681.6 C614.23,688.68 613.13,695.1 611.7,701.2 C610.27,707.3 608.15,713.4 606.4,718.2 C604.65,723 603.15,726 601.2,730 C599.25,734 597.97,737.55 594.7,742.2 C591.43,746.85 587.05,752.88 581.6,757.9 C576.15,762.92 568.1,768.15 562,772.3 C555.9,776.45 550.45,779.3 545,782.8 C539.55,786.3 535.2,790.03 529.3,793.3 C523.4,796.57 514.62,800.88 509.6,802.4 C504.58,803.92 502.47,802.13 499.2,802.4 C495.93,802.67 492.7,803.2 490,804 C487.3,804.8 486.35,805.78 483,807.2 C479.65,808.62 473.83,811.4 469.9,812.5 C465.97,813.6 463.32,814.25 459.4,813.8 C455.48,813.35 452.07,810.82 446.4,809.8 C440.73,808.78 433.25,808.05 425.4,807.7 C417.55,807.35 406.72,807.35 399.3,807.7 C391.88,808.05 385.95,808.58 380.9,809.8 C375.85,811.02 372.48,813.18 369,815 C365.52,816.82 364.55,818.43 360,820.7 C355.45,822.97 346.93,824.67 341.7,828.6 C336.47,832.53 332.53,841.03 328.6,844.3 C324.67,847.57 323.98,848.2 318.1,848.2 C312.22,848.2 303.1,844.08 293.3,844.3 C283.5,844.52 271.52,847.75 259.3,849.5 C247.08,851.25 231.88,851.98 220,854.8 C208.12,857.62 195.45,864 188,866.4 C180.55,868.8 180.22,867.8 175.3,869.2 C170.38,870.6 164.1,872.75 158.5,874.8 C152.9,876.85 147.32,879.27 141.7,881.5 C136.08,883.73 129.2,886.62 124.8,888.2 C120.4,889.78 116.88,890.53 115.3,891" fill="none" stroke="#3B74AE" stroke-width="3.0" stroke-linejoin="round" stroke-linecap="round"/>
<path d="M115.9,947.2 C116.08,945.23 116.53,940.18 117,935.4 C117.47,930.62 118.05,924.12 118.7,918.5 C119.35,912.88 120.07,907.3 120.9,901.7 C121.73,896.1 122.67,890.5 123.7,884.9 C124.73,879.3 125.78,873.33 127.1,868.1 C128.42,862.87 129.92,858.18 131.6,853.5 C133.28,848.82 135.38,844.52 137.2,840 C139.02,835.48 140.3,830.92 142.5,826.4 C144.7,821.88 147.6,817.02 150.4,812.9 C153.2,808.78 156.13,805.25 159.3,801.7 C162.47,798.15 166.03,794.78 169.4,791.6 C172.77,788.42 176.32,785.4 179.5,782.6 C182.68,779.8 185.13,777.5 188.5,774.8 C191.87,772.1 195.97,769.12 199.7,766.4 C203.43,763.68 207.17,760.75 210.9,758.5 C214.63,756.25 216.22,754.85 222.1,752.9 C227.98,750.95 236.73,747.82 246.2,746.8 C255.67,745.78 269.53,747.23 278.9,746.8 C288.27,746.37 295.65,744.35 302.4,744.2 C309.15,744.05 314.17,746.45 319.4,745.9 C324.63,745.35 329.65,743.03 333.8,740.9 C337.95,738.77 340.37,736.58 344.3,733.1 C348.23,729.62 352.17,725.97 357.4,720 C362.63,714.03 370.03,704.57 375.7,697.3 C381.37,690.03 386.17,682.95 391.4,676.4 C396.63,669.85 402.73,661.72 407.1,658 C411.47,654.28 414.12,653.87 417.6,654.1 C421.08,654.33 424.52,656.57 428,659.4 C431.48,662.23 434.57,666.75 438.5,671.1 C442.43,675.45 446.37,681.57 451.6,685.5 C456.83,689.43 463.8,692.38 469.9,694.7 C476,697.02 482.85,699.27 488.2,699.4 C493.55,699.53 497.33,697.17 502,695.5 C506.67,693.83 512.1,691.72 516.2,689.4 C520.3,687.08 522.68,684.65 526.6,681.6 C530.52,678.55 534.9,675.68 539.7,671.1 C544.5,666.52 550.6,659.22 555.4,654.1 C560.2,648.98 564.13,644.87 568.5,640.4 C572.87,635.93 576.15,632 581.6,627.3 C587.05,622.6 595.32,616.35 601.2,612.2 C607.08,608.05 614.28,604.03 616.9,602.4 M616.9,602.4 C616.47,606.88 615.38,620.03 614.3,629.3 C613.22,638.57 611.93,649.28 610.4,658 C608.87,666.72 607.07,673.75 605.1,681.6 C603.13,689.45 601.22,697.03 598.6,705.1 C595.98,713.17 592.23,723.15 589.4,730 C586.57,736.85 585.08,740.67 581.6,746.2 C578.12,751.73 573.3,757.75 568.5,763.2 C563.7,768.65 557.6,773.88 552.8,778.9 C548,783.92 544.07,789.17 539.7,793.3 C535.33,797.43 531.62,800.65 526.6,803.7 C521.58,806.75 515.7,809.08 509.6,811.6 C503.5,814.12 495.73,816.92 490,818.8 C484.27,820.68 479.42,821.33 475.2,822.9 C470.98,824.47 469.07,826.67 464.7,828.2 C460.33,829.73 455.12,832.1 449,832.1 C442.88,832.1 436.28,829.17 428,828.2 C419.72,827.23 407.15,826.3 399.3,826.3 C391.45,826.3 385.85,827.28 380.9,828.2 C375.95,829.12 373.08,829.55 369.6,831.8 C366.12,834.05 364.22,838.53 360,841.7 C355.78,844.87 348.13,848 344.3,850.8 C340.47,853.6 339.33,855.57 337,858.5 C334.67,861.43 333.17,864.57 330.3,868.4 C327.43,872.23 323.28,878.22 319.8,881.5 C316.32,884.78 312.88,887.22 309.4,888.1 C305.92,888.98 303.27,887.47 298.9,886.8 C294.53,886.13 290.18,883.88 283.2,884.1 C276.22,884.32 265.72,886.57 257,888.1 C248.28,889.63 238.32,891.78 230.9,893.3 C223.48,894.82 219.65,894.4 212.5,897.2 C205.35,900 194.2,906.92 188,910.1 C181.8,913.28 179.28,914.33 175.3,916.3 C171.32,918.27 168.77,919.47 164.1,921.9 C159.43,924.33 152.92,927.9 147.3,930.9 C141.68,933.9 135.63,937.18 130.4,939.9 C125.17,942.62 118.32,945.98 115.9,947.2" fill="none" stroke="#1010F5" stroke-width="3.0" stroke-linejoin="round" stroke-linecap="round"/>
<line x1="422" y1="639.7" x2="384.4" y2="774.5" stroke="#000" stroke-width="1.4" stroke-dasharray="6,3,1.5,3"/>
<line x1="334.3" y1="784.4" x2="307.1" y2="905" stroke="#000" stroke-width="1.4" stroke-dasharray="6,3,1.5,3"/>
<rect x="92.1" y="543" width="546.8" height="439.9" fill="none" stroke="#000" stroke-width="3.2" stroke-linejoin="miter"/>
<line x1="83.7" y1="983.7" x2="92.1" y2="983.7" stroke="#000" stroke-width="3.0" />
<line x1="87.3" y1="949.75" x2="92.1" y2="949.75" stroke="#000" stroke-width="3.0" />
<line x1="83.7" y1="915.8" x2="92.1" y2="915.8" stroke="#000" stroke-width="3.0" />
<line x1="87.3" y1="881.85" x2="92.1" y2="881.85" stroke="#000" stroke-width="3.0" />
<line x1="83.7" y1="847.9" x2="92.1" y2="847.9" stroke="#000" stroke-width="3.0" />
<line x1="87.3" y1="813.95" x2="92.1" y2="813.95" stroke="#000" stroke-width="3.0" />
<line x1="83.7" y1="780" x2="92.1" y2="780" stroke="#000" stroke-width="3.0" />
<line x1="87.3" y1="746.05" x2="92.1" y2="746.05" stroke="#000" stroke-width="3.0" />
<line x1="83.7" y1="712.1" x2="92.1" y2="712.1" stroke="#000" stroke-width="3.0" />
<line x1="87.3" y1="678.15" x2="92.1" y2="678.15" stroke="#000" stroke-width="3.0" />
<line x1="83.7" y1="644.2" x2="92.1" y2="644.2" stroke="#000" stroke-width="3.0" />
<line x1="87.3" y1="610.25" x2="92.1" y2="610.25" stroke="#000" stroke-width="3.0" />
<line x1="83.7" y1="576.3" x2="92.1" y2="576.3" stroke="#000" stroke-width="3.0" />
<line x1="87.3" y1="542.35" x2="92.1" y2="542.35" stroke="#000" stroke-width="3.0" />
<text x="77.2" y="990.7" font-family="'Liberation Sans', Arial, sans-serif" font-size="22.2" font-weight="normal" text-anchor="end" fill="#000" >-0.6</text>
<text x="77.2" y="922.8" font-family="'Liberation Sans', Arial, sans-serif" font-size="22.2" font-weight="normal" text-anchor="end" fill="#000" >-0.4</text>
<text x="77.2" y="854.9" font-family="'Liberation Sans', Arial, sans-serif" font-size="22.2" font-weight="normal" text-anchor="end" fill="#000" >-0.2</text>
<text x="77.2" y="787" font-family="'Liberation Sans', Arial, sans-serif" font-size="22.2" font-weight="normal" text-anchor="end" fill="#000" >0.0</text>
<text x="77.2" y="719.1" font-family="'Liberation Sans', Arial, sans-serif" font-size="22.2" font-weight="normal" text-anchor="end" fill="#000" >0.2</text>
<text x="77.2" y="651.2" font-family="'Liberation Sans', Arial, sans-serif" font-size="22.2" font-weight="normal" text-anchor="end" fill="#000" >0.4</text>
<text x="77.2" y="583.3" font-family="'Liberation Sans', Arial, sans-serif" font-size="22.2" font-weight="normal" text-anchor="end" fill="#000" >0.6</text>
<line x1="114" y1="982.9" x2="114" y2="991.5" stroke="#000" stroke-width="3.0" />
<line x1="168.65" y1="982.9" x2="168.65" y2="987.7" stroke="#000" stroke-width="3.0" />
<line x1="223.3" y1="982.9" x2="223.3" y2="991.5" stroke="#000" stroke-width="3.0" />
<line x1="277.95" y1="982.9" x2="277.95" y2="987.7" stroke="#000" stroke-width="3.0" />
<line x1="332.6" y1="982.9" x2="332.6" y2="991.5" stroke="#000" stroke-width="3.0" />
<line x1="387.25" y1="982.9" x2="387.25" y2="987.7" stroke="#000" stroke-width="3.0" />
<line x1="441.9" y1="982.9" x2="441.9" y2="991.5" stroke="#000" stroke-width="3.0" />
<line x1="496.55" y1="982.9" x2="496.55" y2="987.7" stroke="#000" stroke-width="3.0" />
<line x1="551.2" y1="982.9" x2="551.2" y2="991.5" stroke="#000" stroke-width="3.0" />
<line x1="605.85" y1="982.9" x2="605.85" y2="987.7" stroke="#000" stroke-width="3.0" />
<text x="114" y="1015.2" font-family="'Liberation Sans', Arial, sans-serif" font-size="22.2" font-weight="normal" text-anchor="middle" fill="#000" >0.0</text>
<text x="223.3" y="1015.2" font-family="'Liberation Sans', Arial, sans-serif" font-size="22.2" font-weight="normal" text-anchor="middle" fill="#000" >0.5</text>
<text x="332.6" y="1015.2" font-family="'Liberation Sans', Arial, sans-serif" font-size="22.2" font-weight="normal" text-anchor="middle" fill="#000" >1.0</text>
<text x="441.9" y="1015.2" font-family="'Liberation Sans', Arial, sans-serif" font-size="22.2" font-weight="normal" text-anchor="middle" fill="#000" >1.5</text>
<text x="551.2" y="1015.2" font-family="'Liberation Sans', Arial, sans-serif" font-size="22.2" font-weight="normal" text-anchor="middle" fill="#000" >2.0</text>
<line x1="493.3" y1="838.7" x2="532.7" y2="838.7" stroke="#FF1E1E" stroke-width="3.3" stroke-linecap="round"/>
<text x="537.2" y="844" font-family="'Liberation Sans', Arial, sans-serif" font-size="16.8" letter-spacing="0.42">0.3 mV s<tspan font-size="11.8" dy="-6.5" letter-spacing="0">-1</tspan></text>
<line x1="493.3" y1="862.84" x2="532.7" y2="862.84" stroke="#F27D22" stroke-width="3.3" stroke-linecap="round"/>
<text x="537.2" y="868.14" font-family="'Liberation Sans', Arial, sans-serif" font-size="16.8" letter-spacing="0.42">0.5 mV s<tspan font-size="11.8" dy="-6.5" letter-spacing="0">-1</tspan></text>
<line x1="493.3" y1="886.98" x2="532.7" y2="886.98" stroke="#F2FA7E" stroke-width="3.3" stroke-linecap="round"/>
<text x="537.2" y="892.28" font-family="'Liberation Sans', Arial, sans-serif" font-size="16.8" letter-spacing="0.42">1.0 mV s<tspan font-size="11.8" dy="-6.5" letter-spacing="0">-1</tspan></text>
<line x1="493.3" y1="911.12" x2="532.7" y2="911.12" stroke="#2E9E2A" stroke-width="3.3" stroke-linecap="round"/>
<text x="537.2" y="916.42" font-family="'Liberation Sans', Arial, sans-serif" font-size="16.8" letter-spacing="0.42">3.0 mV s<tspan font-size="11.8" dy="-6.5" letter-spacing="0">-1</tspan></text>
<line x1="493.3" y1="935.26" x2="532.7" y2="935.26" stroke="#3B74AE" stroke-width="3.3" stroke-linecap="round"/>
<text x="537.2" y="940.56" font-family="'Liberation Sans', Arial, sans-serif" font-size="16.8" letter-spacing="0.42">5.0 mV s<tspan font-size="11.8" dy="-6.5" letter-spacing="0">-1</tspan></text>
<line x1="493.3" y1="959.4" x2="532.7" y2="959.4" stroke="#1010F5" stroke-width="3.3" stroke-linecap="round"/>
<text x="537.2" y="964.7" font-family="'Liberation Sans', Arial, sans-serif" font-size="16.8" letter-spacing="0.42">10.0 mV s<tspan font-size="11.8" dy="-6.5" letter-spacing="0">-1</tspan></text>
<text x="132.5" y="594.2" font-family="'Liberation Sans', Arial, sans-serif" font-size="27.5">TiNbCT<tspan font-size="20" dy="7">x</tspan><tspan dy="-7"> MXene</tspan></text>
<text x="400.3" y="623.7" font-family="'Liberation Sans', Arial, sans-serif" font-size="26" font-weight="normal" text-anchor="start" fill="#000" >1.38V</text>
<text x="280" y="929" font-family="'Liberation Sans', Arial, sans-serif" font-size="26" font-weight="normal" text-anchor="start" fill="#000" letter-spacing="0.55">0.91V</text>
<text transform="translate(25,761.4) rotate(-90)" text-anchor="middle" font-family="'Liberation Sans', Arial, sans-serif" font-size="32">Current (mA)</text>
<text x="276" y="1061.5" font-family="'Liberation Sans', Arial, sans-serif" font-size="32" font-weight="normal" text-anchor="start" fill="#000" letter-spacing="0.26">Potential (V)</text>
<text transform="translate(11.3,572) scale(1.0,1)" font-family="'Liberation Sans', Arial, sans-serif" font-size="49.5" font-weight="normal">d</text>
<rect x="778" y="610.2" width="72.6" height="206.53" fill="#E0F3D3" stroke="#222" stroke-width="1.3"/>
<rect x="778" y="816.73" width="72.6" height="162.27" fill="#B3DB91" stroke="#222" stroke-width="1.3"/>
<text x="814.3" y="719.46" font-family="'Liberation Sans', Arial, sans-serif" font-size="17" font-weight="normal" text-anchor="middle" fill="#000" >56%</text>
<text x="814.3" y="903.86" font-family="'Liberation Sans', Arial, sans-serif" font-size="17" font-weight="normal" text-anchor="middle" fill="#000" >44%</text>
<rect x="868.6" y="610.2" width="72.6" height="184.4" fill="#E0F3D3" stroke="#222" stroke-width="1.3"/>
<rect x="868.6" y="794.6" width="72.6" height="184.4" fill="#B3DB91" stroke="#222" stroke-width="1.3"/>
<text x="904.9" y="708.4" font-family="'Liberation Sans', Arial, sans-serif" font-size="17" font-weight="normal" text-anchor="middle" fill="#000" >50%</text>
<text x="904.9" y="892.8" font-family="'Liberation Sans', Arial, sans-serif" font-size="17" font-weight="normal" text-anchor="middle" fill="#000" >50%</text>
<rect x="959.2" y="610.2" width="72.6" height="169.65" fill="#E0F3D3" stroke="#222" stroke-width="1.3"/>
<rect x="959.2" y="779.85" width="72.6" height="199.15" fill="#B3DB91" stroke="#222" stroke-width="1.3"/>
<text x="995.5" y="701.02" font-family="'Liberation Sans', Arial, sans-serif" font-size="17" font-weight="normal" text-anchor="middle" fill="#000" >46%</text>
<text x="995.5" y="885.42" font-family="'Liberation Sans', Arial, sans-serif" font-size="17" font-weight="normal" text-anchor="middle" fill="#000" >54%</text>
<rect x="1049.8" y="610.2" width="72.6" height="132.77" fill="#E0F3D3" stroke="#222" stroke-width="1.3"/>
<rect x="1049.8" y="742.97" width="72.6" height="236.03" fill="#B3DB91" stroke="#222" stroke-width="1.3"/>
<text x="1086.1" y="682.58" font-family="'Liberation Sans', Arial, sans-serif" font-size="17" font-weight="normal" text-anchor="middle" fill="#000" >36%</text>
<text x="1086.1" y="866.98" font-family="'Liberation Sans', Arial, sans-serif" font-size="17" font-weight="normal" text-anchor="middle" fill="#000" >64%</text>
<rect x="1140.4" y="610.2" width="72.6" height="110.64" fill="#E0F3D3" stroke="#222" stroke-width="1.3"/>
<rect x="1140.4" y="720.84" width="72.6" height="258.16" fill="#B3DB91" stroke="#222" stroke-width="1.3"/>
<text x="1176.7" y="671.52" font-family="'Liberation Sans', Arial, sans-serif" font-size="17" font-weight="normal" text-anchor="middle" fill="#000" >30%</text>
<text x="1176.7" y="855.92" font-family="'Liberation Sans', Arial, sans-serif" font-size="17" font-weight="normal" text-anchor="middle" fill="#000" >70%</text>
<rect x="1231" y="610.2" width="72.6" height="59.01" fill="#E0F3D3" stroke="#222" stroke-width="1.3"/>
<rect x="1231" y="669.21" width="72.6" height="309.79" fill="#B3DB91" stroke="#222" stroke-width="1.3"/>
<text x="1267.3" y="645.7" font-family="'Liberation Sans', Arial, sans-serif" font-size="17" font-weight="normal" text-anchor="middle" fill="#000" >16%</text>
<text x="1267.3" y="830.1" font-family="'Liberation Sans', Arial, sans-serif" font-size="17" font-weight="normal" text-anchor="middle" fill="#000" >84%</text>
<rect x="769.1" y="536.7" width="543.1" height="443.8" fill="none" stroke="#000" stroke-width="3.2" stroke-linejoin="miter"/>
<line x1="760.7" y1="979" x2="769.1" y2="979" stroke="#000" stroke-width="3.0" />
<line x1="764.5" y1="932.9" x2="769.1" y2="932.9" stroke="#000" stroke-width="3.0" />
<line x1="760.7" y1="886.8" x2="769.1" y2="886.8" stroke="#000" stroke-width="3.0" />
<line x1="764.5" y1="840.7" x2="769.1" y2="840.7" stroke="#000" stroke-width="3.0" />
<line x1="760.7" y1="794.6" x2="769.1" y2="794.6" stroke="#000" stroke-width="3.0" />
<line x1="764.5" y1="748.5" x2="769.1" y2="748.5" stroke="#000" stroke-width="3.0" />
<line x1="760.7" y1="702.4" x2="769.1" y2="702.4" stroke="#000" stroke-width="3.0" />
<line x1="764.5" y1="656.3" x2="769.1" y2="656.3" stroke="#000" stroke-width="3.0" />
<line x1="760.7" y1="610.2" x2="769.1" y2="610.2" stroke="#000" stroke-width="3.0" />
<line x1="764.5" y1="564.1" x2="769.1" y2="564.1" stroke="#000" stroke-width="3.0" />
<text x="753.8" y="984.9" font-family="'Liberation Sans', Arial, sans-serif" font-size="20.5" font-weight="normal" text-anchor="end" fill="#000" >0.00</text>
<text x="753.8" y="892.7" font-family="'Liberation Sans', Arial, sans-serif" font-size="20.5" font-weight="normal" text-anchor="end" fill="#000" >25.00</text>
<text x="753.8" y="800.5" font-family="'Liberation Sans', Arial, sans-serif" font-size="20.5" font-weight="normal" text-anchor="end" fill="#000" >50.00</text>
<text x="753.8" y="708.3" font-family="'Liberation Sans', Arial, sans-serif" font-size="20.5" font-weight="normal" text-anchor="end" fill="#000" >75.00</text>
<text x="753.8" y="616.1" font-family="'Liberation Sans', Arial, sans-serif" font-size="20.5" font-weight="normal" text-anchor="end" fill="#000" >100.00</text>
<line x1="769" y1="980.5" x2="769" y2="984.9" stroke="#000" stroke-width="3.0" />
<line x1="814.3" y1="980.5" x2="814.3" y2="988.6" stroke="#000" stroke-width="3.0" />
<line x1="859.6" y1="980.5" x2="859.6" y2="984.9" stroke="#000" stroke-width="3.0" />
<line x1="904.9" y1="980.5" x2="904.9" y2="988.6" stroke="#000" stroke-width="3.0" />
<line x1="950.2" y1="980.5" x2="950.2" y2="984.9" stroke="#000" stroke-width="3.0" />
<line x1="995.5" y1="980.5" x2="995.5" y2="988.6" stroke="#000" stroke-width="3.0" />
<line x1="1040.8" y1="980.5" x2="1040.8" y2="984.9" stroke="#000" stroke-width="3.0" />
<line x1="1086.1" y1="980.5" x2="1086.1" y2="988.6" stroke="#000" stroke-width="3.0" />
<line x1="1131.4" y1="980.5" x2="1131.4" y2="984.9" stroke="#000" stroke-width="3.0" />
<line x1="1176.7" y1="980.5" x2="1176.7" y2="988.6" stroke="#000" stroke-width="3.0" />
<line x1="1222" y1="980.5" x2="1222" y2="984.9" stroke="#000" stroke-width="3.0" />
<line x1="1267.3" y1="980.5" x2="1267.3" y2="988.6" stroke="#000" stroke-width="3.0" />
<text x="814.3" y="1010.9" font-family="'Liberation Sans', Arial, sans-serif" font-size="20.5" font-weight="normal" text-anchor="middle" fill="#000" >0.3</text>
<text x="904.9" y="1010.9" font-family="'Liberation Sans', Arial, sans-serif" font-size="20.5" font-weight="normal" text-anchor="middle" fill="#000" >0.5</text>
<text x="995.5" y="1010.9" font-family="'Liberation Sans', Arial, sans-serif" font-size="20.5" font-weight="normal" text-anchor="middle" fill="#000" >1</text>
<text x="1086.1" y="1010.9" font-family="'Liberation Sans', Arial, sans-serif" font-size="20.5" font-weight="normal" text-anchor="middle" fill="#000" >3</text>
<text x="1176.7" y="1010.9" font-family="'Liberation Sans', Arial, sans-serif" font-size="20.5" font-weight="normal" text-anchor="middle" fill="#000" >5</text>
<text x="1267.3" y="1010.9" font-family="'Liberation Sans', Arial, sans-serif" font-size="20.5" font-weight="normal" text-anchor="middle" fill="#000" >10</text>
<rect x="782.4" y="544.3" width="50.3" height="25.2" fill="#E0F3D3" stroke="#222" stroke-width="1.3" rx="1"/>
<rect x="782.4" y="573.1" width="50.3" height="25.5" fill="#B3DB91" stroke="#222" stroke-width="1.3" rx="1"/>
<text x="838.5" y="564" font-family="'Liberation Sans', Arial, sans-serif" font-size="20.5" font-weight="normal" text-anchor="start" fill="#000" >Diffusion-controlled</text>
<text x="838.5" y="593.2" font-family="'Liberation Sans', Arial, sans-serif" font-size="20.5" font-weight="normal" text-anchor="start" fill="#000" >Surface-controlled</text>
<text transform="translate(688.7,757) rotate(-90)" text-anchor="middle" font-family="'Liberation Sans', Arial, sans-serif" font-size="27">Contribution (%)</text>
<text x="931" y="1054.8" font-family="'Liberation Sans', Arial, sans-serif" font-size="27">Scan rate (mV s<tspan font-size="17.5" dy="-11">-1</tspan><tspan dy="11">)</tspan></text>
<text transform="translate(675,572.5) scale(1.0,1)" font-family="'Liberation Sans', Arial, sans-serif" font-size="54" font-weight="normal">e</text>
<path d="M1496.6,936.9 L1496.6,650 L1497.2,593 L1497.6,600 L1497.9,650 L1498.8,684.7 L1499,695.8 L1506.2,694.5 L1514,696.5 L1523.2,695.8 L1532.3,695.2 L1540.2,696.5 L1549.4,695.2 L1562.4,697.5 L1572.9,696.9 L1575.5,693.2 L1584.7,692.8 L1589.9,692.6 L1597.8,690.3 L1606.9,690.3 L1613.5,691.6 L1621.3,689.9 L1637,691 L1658,691.2 L1676.3,692.3 L1685.5,693.2 L1695.4,691.7 L1706.6,691 L1719.2,691.3 L1729,693.1 L1740.2,693.8 L1750,692.8 L1766.8,692.7 L1778,692.1 L1794.8,693.5 L1803.2,694.5 L1813,692.7 L1820,693.1 L1831.2,695.2 L1848,696.6 L1856.4,695.9 L1870.4,697.7 L1883,697 L1898.4,698.4 L1918,697.7 L1929.2,696.6 L1940.4,697.6 L1948.8,696.9" fill="none" stroke="#8A00FF" stroke-width="2.6" stroke-linejoin="round" stroke-linecap="round"/>
<rect x="1452.2" y="540" width="543.3" height="436.8" fill="none" stroke="#000" stroke-width="3.2" stroke-linejoin="miter"/>
<line x1="1446.6" y1="976.4" x2="1452.2" y2="976.4" stroke="#000" stroke-width="3.0" />
<line x1="1442.6" y1="940" x2="1452.2" y2="940" stroke="#000" stroke-width="3.0" />
<line x1="1446.6" y1="903.6" x2="1452.2" y2="903.6" stroke="#000" stroke-width="3.0" />
<line x1="1442.6" y1="867.2" x2="1452.2" y2="867.2" stroke="#000" stroke-width="3.0" />
<line x1="1446.6" y1="830.8" x2="1452.2" y2="830.8" stroke="#000" stroke-width="3.0" />
<line x1="1442.6" y1="794.4" x2="1452.2" y2="794.4" stroke="#000" stroke-width="3.0" />
<line x1="1446.6" y1="758" x2="1452.2" y2="758" stroke="#000" stroke-width="3.0" />
<line x1="1442.6" y1="721.6" x2="1452.2" y2="721.6" stroke="#000" stroke-width="3.0" />
<line x1="1446.6" y1="685.2" x2="1452.2" y2="685.2" stroke="#000" stroke-width="3.0" />
<line x1="1442.6" y1="648.8" x2="1452.2" y2="648.8" stroke="#000" stroke-width="3.0" />
<line x1="1446.6" y1="612.4" x2="1452.2" y2="612.4" stroke="#000" stroke-width="3.0" />
<line x1="1442.6" y1="576" x2="1452.2" y2="576" stroke="#000" stroke-width="3.0" />
<line x1="1446.6" y1="539.6" x2="1452.2" y2="539.6" stroke="#000" stroke-width="3.0" />
<text x="1436.2" y="947.1" font-family="'Liberation Sans', Arial, sans-serif" font-size="24.5" font-weight="normal" text-anchor="end" fill="#000" >0.0</text>
<text x="1436.2" y="874.3" font-family="'Liberation Sans', Arial, sans-serif" font-size="24.5" font-weight="normal" text-anchor="end" fill="#000" >0.5</text>
<text x="1436.2" y="801.5" font-family="'Liberation Sans', Arial, sans-serif" font-size="24.5" font-weight="normal" text-anchor="end" fill="#000" >1.0</text>
<text x="1436.2" y="728.7" font-family="'Liberation Sans', Arial, sans-serif" font-size="24.5" font-weight="normal" text-anchor="end" fill="#000" >1.5</text>
<text x="1436.2" y="655.9" font-family="'Liberation Sans', Arial, sans-serif" font-size="24.5" font-weight="normal" text-anchor="end" fill="#000" >2.0</text>
<text x="1436.2" y="583.1" font-family="'Liberation Sans', Arial, sans-serif" font-size="24.5" font-weight="normal" text-anchor="end" fill="#000" >2.5</text>
<line x1="1451.34" y1="976.8" x2="1451.34" y2="981.9" stroke="#000" stroke-width="3.0" />
<line x1="1496.7" y1="976.8" x2="1496.7" y2="985.4" stroke="#000" stroke-width="3.0" />
<line x1="1542.06" y1="976.8" x2="1542.06" y2="981.9" stroke="#000" stroke-width="3.0" />
<line x1="1587.42" y1="976.8" x2="1587.42" y2="985.4" stroke="#000" stroke-width="3.0" />
<line x1="1632.78" y1="976.8" x2="1632.78" y2="981.9" stroke="#000" stroke-width="3.0" />
<line x1="1678.14" y1="976.8" x2="1678.14" y2="985.4" stroke="#000" stroke-width="3.0" />
<line x1="1723.5" y1="976.8" x2="1723.5" y2="981.9" stroke="#000" stroke-width="3.0" />
<line x1="1768.86" y1="976.8" x2="1768.86" y2="985.4" stroke="#000" stroke-width="3.0" />
<line x1="1814.22" y1="976.8" x2="1814.22" y2="981.9" stroke="#000" stroke-width="3.0" />
<line x1="1859.58" y1="976.8" x2="1859.58" y2="985.4" stroke="#000" stroke-width="3.0" />
<line x1="1904.94" y1="976.8" x2="1904.94" y2="981.9" stroke="#000" stroke-width="3.0" />
<line x1="1950.3" y1="976.8" x2="1950.3" y2="985.4" stroke="#000" stroke-width="3.0" />
<line x1="1995.66" y1="976.8" x2="1995.66" y2="981.9" stroke="#000" stroke-width="3.0" />
<text x="1496.7" y="1010.3" font-family="'Liberation Sans', Arial, sans-serif" font-size="24.5" font-weight="normal" text-anchor="middle" fill="#000" >0</text>
<text x="1587.42" y="1010.3" font-family="'Liberation Sans', Arial, sans-serif" font-size="24.5" font-weight="normal" text-anchor="middle" fill="#000" >50</text>
<text x="1678.14" y="1010.3" font-family="'Liberation Sans', Arial, sans-serif" font-size="24.5" font-weight="normal" text-anchor="middle" fill="#000" >100</text>
<text x="1768.86" y="1010.3" font-family="'Liberation Sans', Arial, sans-serif" font-size="24.5" font-weight="normal" text-anchor="middle" fill="#000" >150</text>
<text x="1859.58" y="1010.3" font-family="'Liberation Sans', Arial, sans-serif" font-size="24.5" font-weight="normal" text-anchor="middle" fill="#000" >200</text>
<text x="1950.3" y="1010.3" font-family="'Liberation Sans', Arial, sans-serif" font-size="24.5" font-weight="normal" text-anchor="middle" fill="#000" >250</text>
<text transform="translate(1381.2,757) rotate(-90)" text-anchor="middle" font-family="'Liberation Sans', Arial, sans-serif" font-size="27">Voltage (V)</text>
<text x="1673" y="1052.3" font-family="'Liberation Sans', Arial, sans-serif" font-size="27" font-weight="normal" text-anchor="start" fill="#000" letter-spacing="0.25">Time (h)</text>
<text transform="translate(1335.2,571.8) scale(1.1,1)" font-family="'Liberation Sans', Arial, sans-serif" font-size="50.5" font-weight="normal">f</text>
</svg>
</body></html>
